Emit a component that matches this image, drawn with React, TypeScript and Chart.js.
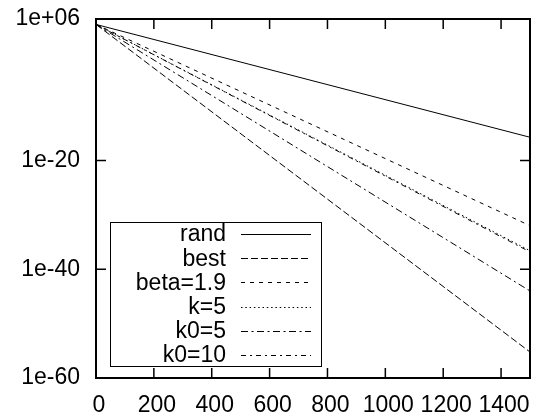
import React, { useEffect, useRef } from "react";
import { Chart, registerables } from "chart.js";

Chart.register(...registerables);

// ---- data ----
const seriesNames = ["rand", "best", "beta=1.9", "k=5", "k0=5", "k0=10"];
const xValues = [0, 1500];
const randValues = [1e5, 1.8e-16];
const bestValues = [1e5, 6e-56];
const betaValues = [1e5, 1e-32];
const k5Values = [1e5, 2.5e-37];
const k05Values = [1e5, 1e-44];
const k010Values = [1e5, 1.5e-37];
const seriesValues = [randValues, bestValues, betaValues, k5Values, k05Values, k010Values];
const seriesDashes: number[][] = [[], [7, 3], [4, 5], [1.5, 2.8], [7, 3.5, 2, 3.5], [5, 4, 2, 4]];

const xTicks = [0, 200, 400, 600, 800, 1000, 1200, 1400];
const yTicks = [1e-60, 1e-40, 1e-20, 1e6];
const yTickLabels = ["1e-60", "1e-40", "1e-20", "1e+06"];

const FONT = "'Liberation Sans', Arial, Helvetica, sans-serif";
const FONT_SIZE = 23;

const framePlugin = {
  id: "gnuFrame",
  afterDraw(chart: any) {
    const { ctx, chartArea } = chart;
    const { left, right, top, bottom } = chartArea;
    const xs = chart.scales.x;
    const ys = chart.scales.y;
    const tl = 10;
    ctx.save();
    ctx.strokeStyle = "#000";
    ctx.lineWidth = 1.5;
    ctx.setLineDash([]);
    ctx.beginPath();
    xTicks.forEach((v) => {
      const px = xs.getPixelForValue(v);
      if (px <= left + 1 || px >= right - 1) return;
      ctx.moveTo(px, bottom);
      ctx.lineTo(px, bottom - tl);
      ctx.moveTo(px, top);
      ctx.lineTo(px, top + tl);
    });
    yTicks.forEach((v) => {
      const py = ys.getPixelForValue(v);
      if (py <= top + 1 || py >= bottom - 1) return;
      ctx.moveTo(left, py);
      ctx.lineTo(left + tl, py);
      ctx.moveTo(right, py);
      ctx.lineTo(right - tl, py);
    });
    ctx.stroke();
    ctx.lineWidth = 2;
    ctx.strokeRect(left, top, right - left, bottom - top);

    // legend
    const bx0 = 110, by0 = 222, bx1 = 321, by1 = 366;
    ctx.fillStyle = "#fff";
    ctx.fillRect(bx0, by0, bx1 - bx0, by1 - by0);
    ctx.lineWidth = 1;
    ctx.strokeRect(bx0 + 0.5, by0 + 0.5, bx1 - bx0, by1 - by0);
    ctx.font = `${FONT_SIZE}px ${FONT}`;
    ctx.fillStyle = "#000";
    ctx.textAlign = "right";
    ctx.textBaseline = "middle";
    chart.data.datasets.forEach((ds: any, i: number) => {
      const y = 234 + i * 24.2;
      ctx.fillText(ds.label, 226, y + 1);
      ctx.beginPath();
      ctx.setLineDash(ds.borderDash || []);
      ctx.lineWidth = 1;
      ctx.moveTo(241, Math.round(y) + 0.5);
      ctx.lineTo(311, Math.round(y) + 0.5);
      ctx.stroke();
    });
    ctx.restore();
  },
};

export default function App() {
  const ref = useRef<HTMLCanvasElement>(null);
  useEffect(() => {
    document.body.style.margin = "0";
    const chart = new Chart(ref.current as HTMLCanvasElement, {
      type: "scatter",
      data: {
        datasets: seriesNames.map((name, i) => ({
          label: name,
          data: xValues.map((x, j) => ({ x, y: seriesValues[i][j] })),
          showLine: true,
          borderColor: "#000",
          borderWidth: 1,
          borderDash: seriesDashes[i],
          pointRadius: 0,
          fill: false,
        })),
      },
      options: {
        responsive: false,
        animation: false,
        layout: { padding: { left: 0, right: 9, top: 19, bottom: 0 } },
        plugins: { legend: { display: false }, tooltip: { enabled: false } },
        scales: {
          x: {
            type: "linear",
            min: 0,
            max: 1500,
            afterBuildTicks: (s: any) => {
              s.ticks = xTicks.map((v) => ({ value: v }));
            },
            afterFit: (s: any) => {
              s.height = 38;
              s.paddingLeft = 0;
              s.paddingRight = 0;
            },
            grid: { display: false, drawTicks: false },
            border: { display: false },
            ticks: {
              padding: 14,
              labelOffset: 3,
              maxRotation: 0,
              autoSkip: false,
              color: "#000",
              font: { family: FONT, size: FONT_SIZE },
              callback: (v: any) => String(v),
            },
          },
          y: {
            type: "logarithmic",
            min: 1e-60,
            max: 1e6,
            afterBuildTicks: (s: any) => {
              s.ticks = yTicks.map((v) => ({ value: v }));
            },
            afterFit: (s: any) => {
              s.width = 96;
              s.paddingTop = 0;
              s.paddingBottom = 0;
            },
            grid: { display: false, drawTicks: false },
            border: { display: false },
            ticks: {
              padding: 16,
              autoSkip: false,
              color: "#000",
              font: { family: FONT, size: FONT_SIZE },
              callback: (v: any) => {
                const i = yTicks.findIndex((t) => Math.abs(Math.log10(t) - Math.log10(v)) < 1e-6);
                return i >= 0 ? yTickLabels[i] : "";
              },
            },
          },
        },
      },
      plugins: [framePlugin],
    } as any);
    return () => chart.destroy();
  }, []);
  return (
    <div style={{ position: "absolute", left: 0, top: 0, width: 539, height: 416, background: "#fff" }}>
      <canvas ref={ref} width={539} height={416} />
    </div>
  );
}
